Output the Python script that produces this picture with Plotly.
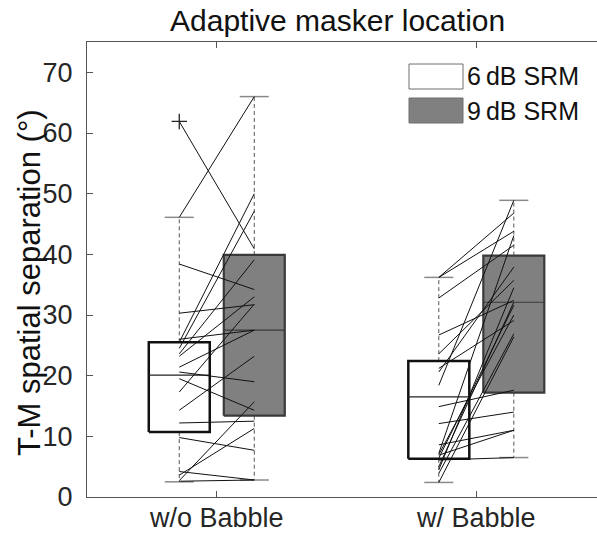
import plotly.graph_objects as go

# ---------------- data ----------------
groups = ["w/o Babble", "w/ Babble"]
group_pos = [1, 2]
conditions = ["6\u2009dB SRM", "9\u2009dB SRM"]
y_ticks = [0, 10, 20, 30, 40, 50, 60, 70]

# box statistics: [w/o Babble, w/ Babble]
q1_6 = [10.7, 6.3]
med_6 = [20.1, 16.5]
q3_6 = [25.5, 22.4]
lo_6 = [2.5, 2.4]
hi_6 = [46.1, 36.2]

q1_9 = [13.4, 17.2]
med_9 = [27.5, 32.1]
q3_9 = [39.9, 39.8]
lo_9 = [2.8, 6.5]
hi_9 = [66.0, 48.9]

outliers_6_woB = [61.9]

# individual listeners (paired 6 dB -> 9 dB)
srm6_woB = [61.9, 46.1, 38.4, 30.3, 26.0, 25.5, 24.5, 23.6, 23.2, 21.4, 20.6,
            19.5, 17.3, 14.3, 12.2, 9.8, 4.2, 3.6, 2.7, 2.6]
srm9_woB = [40.9, 66.0, 34.2, 31.7, 27.5, 50.0, 47.1, 39.1, 33.0, 27.5, 19.0,
            14.3, 31.8, 23.2, 12.5, 7.7, 2.8, 11.3, 15.7, 2.8]

srm6_wB = [36.2, 36.2, 32.8, 26.7, 23.6, 21.2, 20.6, 18.4, 14.9, 12.1, 8.6,
           7.2, 6.9, 6.4, 6.1, 5.0, 3.9, 2.4, 7.0, 4.5]
srm9_wB = [46.8, 43.8, 41.5, 32.4, 35.7, 29.1, 37.9, 48.9, 17.6, 14.0, 11.0,
           43.1, 11.0, 31.6, 6.5, 32.1, 26.9, 26.4, 30.0, 34.5]

# ---------------- geometry / style ----------------
OFF = 0.1445      # box offset from group centre
HW = 0.1175       # box half width
CAP = 0.056       # whisker cap half width
XR = [0.5, 2.465]
YR = [0, 75]

fig = go.Figure()

def add_box(xc, q1, med, q3, lo, hi, fill, edge, ew, medc):
    fig.add_trace(go.Scatter(x=[xc, xc, None, xc, xc], y=[q3, hi, None, q1, lo],
                             mode="lines", line=dict(color="#555555", width=1, dash="4px,3px"),
                             hoverinfo="skip", showlegend=False))
    fig.add_trace(go.Scatter(x=[xc - CAP, xc + CAP, None, xc - CAP, xc + CAP],
                             y=[hi, hi, None, lo, lo], mode="lines",
                             line=dict(color="#8a8a8a", width=1.5),
                             hoverinfo="skip", showlegend=False))
    fig.add_trace(go.Scatter(x=[xc - HW, xc + HW, xc + HW, xc - HW, xc - HW],
                             y=[q1, q1, q3, q3, q1], mode="lines", fill="toself",
                             fillcolor=fill, line=dict(color=edge, width=ew),
                             hoverinfo="skip", showlegend=False))
    fig.add_trace(go.Scatter(x=[xc - HW, xc + HW], y=[med, med], mode="lines",
                             line=dict(color=medc, width=1.2),
                             hoverinfo="skip", showlegend=False))

for i, gp in enumerate(group_pos):
    add_box(gp - OFF, q1_6[i], med_6[i], q3_6[i], lo_6[i], hi_6[i],
            "white", "#111111", 2.5, "#222222")
    add_box(gp + OFF, q1_9[i], med_9[i], q3_9[i], lo_9[i], hi_9[i],
            "#808080", "#3a3a3a", 2.2, "#3a3a3a")

def pair_lines(gp, a, b):
    xs, ys = [], []
    for va, vb in zip(a, b):
        xs += [gp - OFF, gp + OFF, None]
        ys += [va, vb, None]
    return xs, ys

for gp, a, b in [(group_pos[0], srm6_woB, srm9_woB), (group_pos[1], srm6_wB, srm9_wB)]:
    xs, ys = pair_lines(gp, a, b)
    fig.add_trace(go.Scatter(x=xs, y=ys, mode="lines",
                             line=dict(color="#111111", width=1),
                             hoverinfo="skip", showlegend=False))

fig.add_trace(go.Scatter(x=[group_pos[0] - OFF] * len(outliers_6_woB), y=outliers_6_woB,
                         mode="markers",
                         marker=dict(symbol="cross-thin", size=11,
                                     line=dict(color="#222222", width=1.3)),
                         hoverinfo="skip", showlegend=False))

FONT = "Arial, Liberation Sans, Helvetica, sans-serif"
W, H = 597, 537
L, R, T, B = 87, 0, 42, 40
pw, ph = W - L - R, H - T - B

def px(xp):
    return (xp - L) / pw

def py(yp):
    return (H - B - yp) / ph

fig.update_layout(
    width=W, height=H,
    margin=dict(l=L, r=R, t=T, b=B, pad=0),
    paper_bgcolor="white", plot_bgcolor="white",
    font=dict(family=FONT, color="#262626"),
    xaxis=dict(range=XR, tickvals=group_pos, showticklabels=False, showgrid=False,
               zeroline=False, showline=True, linecolor="#555555", linewidth=1,
               mirror="ticks", ticks="inside", ticklen=6, tickcolor="#555555",
               automargin=False),
    yaxis=dict(range=YR, tickvals=y_ticks, showgrid=False,
               zeroline=False, showline=True, linecolor="#555555", linewidth=1,
               ticks="inside", ticklen=6, tickcolor="#555555", ticklabelstandoff=8,
               tickfont=dict(size=27, family=FONT, color="#262626"),
               automargin=False),
    showlegend=False,
)

# x category labels
for gp, lab in zip(group_pos, groups):
    fig.add_annotation(text=lab, xref="x", yref="paper", x=gp, y=py(518),
                       xanchor="center", yanchor="middle", showarrow=False,
                       font=dict(size=27, family=FONT, color="#262626"))

# title and y-axis label
fig.add_annotation(text="Adaptive masker location", xref="paper", yref="paper",
                   x=px(337), y=py(21), xanchor="center", yanchor="middle",
                   showarrow=False, font=dict(size=30, family=FONT, color="#111111"))
fig.add_annotation(text="T-M spatial separation (°)", xref="paper", yref="paper",
                   x=px(29), y=py(283), xanchor="center", yanchor="middle",
                   textangle=-90, showarrow=False,
                   font=dict(size=31, family=FONT, color="#111111"))

# legend (manual)
legend_fills = ["white", "#808080"]
legend_rows = [(64, 89), (98, 123)]
for (y0, y1), fc, lab in zip(legend_rows, legend_fills, conditions):
    fig.add_shape(type="rect", xref="paper", yref="paper",
                  x0=px(409), x1=px(463), y0=py(y1), y1=py(y0),
                  fillcolor=fc, line=dict(color="#6e6e6e", width=1))
    fig.add_annotation(text=lab, xref="paper", yref="paper",
                       x=px(465), y=py((y0 + y1) / 2), xanchor="left", yanchor="middle",
                       showarrow=False, font=dict(size=25, family=FONT, color="#111111"))

fig.write_html("out.html", config={"displayModeBar": False},
               post_script="document.body.style.margin='0px';document.body.style.overflow='hidden';")
